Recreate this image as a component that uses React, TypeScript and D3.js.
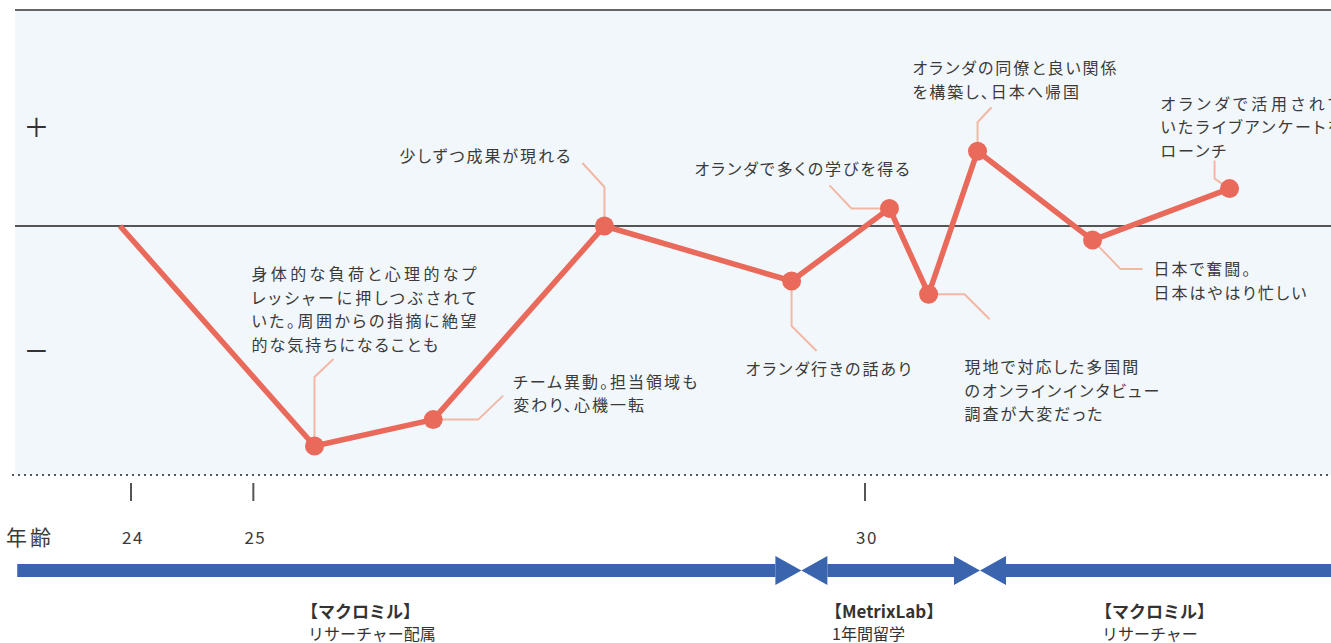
import React from "react";
import * as d3 from "d3";

// ---- data ----
const AGES = [23.91, 25.5, 26.47, 27.87, 29.4, 30.2, 30.52, 30.92, 31.86, 32.98];
const MOOD = [0, -100, -88, 0, -25, 8, -31, 34, -6.4, 17];
const NOTES: string[][] = [
  [],
  ["身体的な負荷と心理的なプ", "レッシャーに押しつぶされて", "いた。周囲からの指摘に絶望", "的な気持ちになることも"],
  ["チーム異動。担当領域も", "変わり、心機一転"],
  ["少しずつ成果が現れる"],
  ["オランダ行きの話あり"],
  ["オランダで多くの学びを得る"],
  ["現地で対応した多国間", "のオンラインインタビュー", "調査が大変だった"],
  ["オランダの同僚と良い関係", "を構築し、日本へ帰国"],
  ["日本で奮闘。", "日本はやはり忙しい"],
  ["オランダで活用されて", "いたライブアンケートを", "ローンチ"],
];
const AGE_TICKS = [24, 25, 30];
const PERIOD_BOUNDS = [23.07, 29.48, 30.94, 33.9];
const PERIOD_TITLES = ["【マクロミル】", "【MetrixLab】", "【マクロミル】"];
const PERIOD_SUBS = ["リサーチャー配属", "1年間留学", "リサーチャー"];

// ---- layout (positions / styles) ----
const W = 1331;
const H = 643;
const LEADERS: number[][][] = [
  [],
  [[0, 0], [0, -69], [19, -87]],
  [[0, 0], [45, 0], [70, -24]],
  [[0, 0], [0, -39], [-22, -63]],
  [[0, 0], [0, 45], [25, 70]],
  [[0, 0], [-38, 0], [-60, -23]],
  [[0, 0], [36, 0], [61, 25]],
  [[0, 0], [0, -29], [14, -44]],
  [[0, 0], [28, 29], [50, 29]],
  [[0, 0], [-15, -10], [-15, -28]],
];
const TEXT_POS: { dx: number; dy: number; anchor?: string; justify?: number; jl?: number }[] = [
  { dx: 0, dy: 0 },
  { dx: -63, dy: -173, justify: 225, jl: 3 },
  { dx: 80, dy: -39 },
  { dx: -32, dy: -71, anchor: "end" },
  { dx: -46, dy: 87 },
  { dx: -195, dy: -40 },
  { dx: 36, dy: 72 },
  { dx: -65, dy: -84 },
  { dx: 61, dy: 28 },
  { dx: -69, dy: -86, justify: 182, jl: 2 },
];
const PERIOD_LABEL_X = [308, 832, 1102];

const LINE_COLOR = "#e9695a";
const LEADER_COLOR = "#f3b8a3";
const BAR_COLOR = "#3a65ae";
const TEXT_COLOR = "#3a3a3a";
const FONT = "'Noto Sans CJK JP', 'Noto Sans', sans-serif";

export default function App() {
  const x = d3.scaleLinear().domain([24, 30]).range([131, 865]);
  const y = d3.scaleLinear().domain([-100, 100]).range([446, 6]);
  const pts = AGES.map((a, i) => [x(a), y(MOOD[i])] as [number, number]);
  const line = d3.line<[number, number]>();
  const panelTop = 10;
  const zeroY = y(0);
  const dotY = 475;
  const barY = 570.5;
  const lh = 23.6;

  const bounds = PERIOD_BOUNDS.map((b) => x(b));
  const headW = 26;
  const headH = 29;
  const barH = 13;

  return (
    <svg
      width={W}
      height={H}
      style={{ position: "absolute", left: 0, top: 0, fontFamily: FONT }}
    >
      {/* panel */}
      <rect x={15} y={panelTop} width={W - 15} height={dotY - panelTop} fill="#f2f7fc" />
      <line x1={15} x2={W} y1={panelTop} y2={panelTop} stroke="#666" strokeWidth={2} />
      <line x1={15} x2={W} y1={zeroY} y2={zeroY} stroke="#555" strokeWidth={2} />
      <line x1={12} x2={W} y1={dotY} y2={dotY} stroke="#555" strokeWidth={2} strokeDasharray="2 4" />
      <text x={36.5} y={126} fontSize={40} fontWeight={300} textAnchor="middle" dominantBaseline="central" fill="#333" fontFamily="'Noto Sans', sans-serif">+</text>
      <text x={36.5} y={349} fontSize={40} fontWeight={300} textAnchor="middle" dominantBaseline="central" fill="#333" fontFamily="'Noto Sans', sans-serif">−</text>

      {/* leaders */}
      {pts.map((p, i) =>
        LEADERS[i].length ? (
          <path
            key={"ld" + i}
            d={line(LEADERS[i].map(([dx, dy]) => [p[0] + dx, p[1] + dy] as [number, number])) || ""}
            fill="none"
            stroke={LEADER_COLOR}
            strokeWidth={2}
          />
        ) : null
      )}

      {/* main line */}
      <path d={line(pts) || ""} fill="none" stroke={LINE_COLOR} strokeWidth={5.5} strokeLinejoin="round" />
      {pts.slice(1).map((p, i) => (
        <circle key={"pt" + i} cx={p[0]} cy={p[1]} r={9.5} fill={LINE_COLOR} />
      ))}

      {/* annotations */}
      {pts.map((p, i) => {
        const tp = TEXT_POS[i];
        return NOTES[i].map((t, j) => {
          const just = tp.justify && j < (tp.jl || 0);
          return (
            <text
              key={"tx" + i + "-" + j}
              x={p[0] + tp.dx}
              y={p[1] + tp.dy + j * lh}
              fontSize={16}
              fill={TEXT_COLOR}
              textAnchor={tp.anchor || "start"}
              dominantBaseline="central"
              letterSpacing={just ? 0 : 2.0}
              textLength={just ? tp.justify : undefined}
              lengthAdjust={just ? "spacing" : undefined}
              style={{ fontFeatureSettings: "'palt'" }}
            >
              {t}
            </text>
          );
        });
      })}

      {/* age axis */}
      {AGE_TICKS.map((a) => (
        <g key={"tk" + a}>
          <line x1={x(a)} x2={x(a)} y1={483} y2={501} stroke="#555" strokeWidth={2} />
          <text x={x(a) + 2} y={536} fontSize={17} fill={TEXT_COLOR} textAnchor="middle" dominantBaseline="central" letterSpacing={1.5}>
            {a}
          </text>
        </g>
      ))}
      <text x={6} y={536} fontSize={21} fill={TEXT_COLOR} dominantBaseline="central" letterSpacing={3}>年齢</text>

      {/* periods */}
      {PERIOD_TITLES.map((t, i) => {
        const x0 = bounds[i];
        const x1 = bounds[i + 1];
        const hasLeft = i > 0;
        const hasRight = i < PERIOD_TITLES.length - 1;
        const bx0 = hasLeft ? x0 + headW : x0;
        const bx1 = hasRight ? x1 - headW : x1;
        return (
          <g key={"pd" + i}>
            <rect x={bx0} y={barY - barH / 2} width={bx1 - bx0} height={barH} fill={BAR_COLOR} />
            {hasLeft && (
              <path
                d={`M${x0},${barY} L${x0 + headW},${barY - headH / 2} L${x0 + headW},${barY + headH / 2} Z`}
                fill={BAR_COLOR}
              />
            )}
            {hasRight && (
              <path
                d={`M${x1},${barY} L${x1 - headW},${barY - headH / 2} L${x1 - headW},${barY + headH / 2} Z`}
                fill={BAR_COLOR}
              />
            )}
            <text x={PERIOD_LABEL_X[i] - 7} y={610} fontSize={17} fontWeight={700} fill="#333" dominantBaseline="central">
              {t}
            </text>
            <text x={PERIOD_LABEL_X[i]} y={633} fontSize={16} fill="#333" dominantBaseline="central">
              {PERIOD_SUBS[i]}
            </text>
          </g>
        );
      })}
    </svg>
  );
}
